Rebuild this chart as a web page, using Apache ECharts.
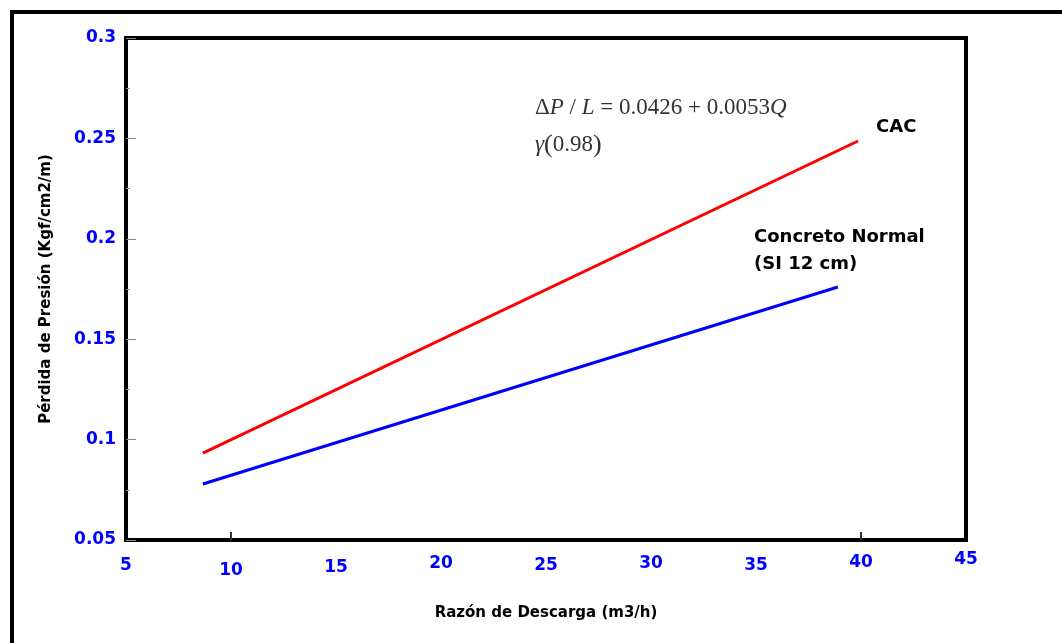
<!DOCTYPE html>
<html>
<head>
<meta charset="utf-8">
<script src="https://cdn.jsdelivr.net/npm/echarts@6/dist/echarts.min.js"></script>
<style>
  html, body { margin: 0; padding: 0; background: #fff; }
  #chart { width: 1062px; height: 643px; }
</style>
</head>
<body>
<div id="chart"></div>
<script>
// Discharge rate (m3/h) vs pressure loss (Kgf/cm2/m)
const cacPoints = [[8.66, 0.0933], [39.86, 0.2487]];
const normalPoints = [[8.66, 0.0779], [38.9, 0.176]];
const xTicks = [5, 10, 15, 20, 25, 30, 35, 40, 45];
const yTicks = [0.05, 0.1, 0.15, 0.2, 0.25, 0.3];
const seriesNames = ['CAC', 'Concreto Normal (SI 12 cm)'];

const tickFont = 'DejaVu Sans';
const blue = '#0000FF';

// small vertical stagger of the x tick labels
const xLabelShift = { 5: 0, 10: 5, 15: 2, 20: -2, 25: 0, 30: -2, 35: 0, 40: -3, 45: -6 };
const rich = {};
xTicks.forEach(v => {
  rich['t' + v] = {
    color: blue, fontFamily: tickFont, fontWeight: 'bold', fontSize: 17,
    padding: [Math.max(0, xLabelShift[v] + 6), 0, Math.max(0, -(xLabelShift[v] + 6)), 0]
  };
});

const chart = echarts.init(document.getElementById('chart'), null, { renderer: 'canvas' });
chart.setOption({
  backgroundColor: '#fff',
  animation: false,
  grid: {
    left: 126, top: 38, right: 96, bottom: 103,
    show: true, borderColor: '#000', borderWidth: 4, backgroundColor: 'transparent'
  },
  xAxis: {
    type: 'value', min: xTicks[0], max: xTicks[xTicks.length - 1], interval: 5,
    axisLine: { show: false },
    axisTick: {
      show: true, inside: true, length: 8,
      lineStyle: { color: '#333', width: 2 },
      customValues: [10, 40]
    },
    splitLine: { show: false },
    axisLabel: {
      margin: 11,
      formatter: v => '{t' + v + '|' + v + '}',
      rich: rich
    },
    name: 'Razón de Descarga (m3/h)', nameLocation: 'middle', nameGap: 66,
    nameTextStyle: { fontFamily: 'DejaVu Sans', fontWeight: 'bold', fontSize: 15, color: '#000' }
  },
  yAxis: {
    type: 'value', min: yTicks[0], max: yTicks[yTicks.length - 1], interval: 0.05,
    axisLine: { show: false },
    axisTick: { show: true, inside: true, length: 10, lineStyle: { color: '#888', width: 1 } },
    minorTick: { show: true, splitNumber: 2, length: 4, lineStyle: { color: '#999', width: 1 } },
    splitLine: { show: false },
    axisLabel: {
      margin: 10, color: blue, fontFamily: tickFont, fontWeight: 'bold', fontSize: 17,
      formatter: v => String(+v.toFixed(2))
    },
    name: 'Pérdida de Presión (Kgf/cm2/m)', nameLocation: 'middle', nameGap: 72,
    nameTextStyle: { fontFamily: 'DejaVu Sans', fontWeight: 'bold', fontSize: 15, color: '#000' }
  },
  series: [
    {
      name: seriesNames[0], type: 'line', data: cacPoints, symbol: 'none',
      lineStyle: { color: '#FF0000', width: 3 }
    },
    {
      name: seriesNames[1], type: 'line', data: normalPoints, symbol: 'none',
      lineStyle: { color: '#0000FF', width: 3 }
    }
  ],
  graphic: [
    // outer frame
    {
      type: 'rect', z: 10, silent: true,
      shape: { x: 12, y: 12, width: 1100, height: 700 },
      style: { fill: 'none', stroke: '#000', lineWidth: 4 }
    },
    {
      type: 'text', left: 535, top: 96, z: 10,
      style: {
        text: '{n|Δ}{i|P}{n| / }{i|L}{n| = 0.0426 + 0.0053}{i|Q}',
        rich: {
          n: { fontFamily: 'Liberation Serif', fontSize: 23, fill: '#333' },
          i: { fontFamily: 'Liberation Serif', fontStyle: 'italic', fontSize: 23, fill: '#333' }
        }
      }
    },
    {
      type: 'text', left: 535, top: 132, z: 10,
      style: {
        text: '{i|γ}{p|(}{n|0.98}{p|)}',
        rich: {
          n: { fontFamily: 'Liberation Serif', fontSize: 23, fill: '#333' },
          p: { fontFamily: 'Liberation Serif', fontSize: 26, fill: '#333' },
          i: { fontFamily: 'Liberation Serif', fontStyle: 'italic', fontSize: 23, fill: '#333' }
        }
      }
    },
    {
      type: 'text', left: 876, top: 118, z: 10,
      style: { text: 'CAC', fontFamily: 'DejaVu Sans', fontWeight: 'bold', fontSize: 18, fill: '#000' }
    },
    {
      type: 'text', left: 754, top: 224, z: 10,
      style: {
        text: 'Concreto Normal\n(SI 12 cm)', fontFamily: 'DejaVu Sans', fontWeight: 'bold',
        fontSize: 18, lineHeight: 27, fill: '#000'
      }
    }
  ]
});
</script>
</body>
</html>
